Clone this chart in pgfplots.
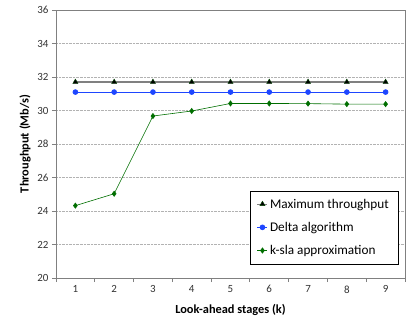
\documentclass[border=0pt]{standalone}
\usepackage{fontspec}
\setmainfont{Carlito}
\usepackage{pgfplots}
\pgfplotsset{compat=1.18}
\definecolor{ksla}{RGB}{0,110,0}
\definecolor{delta}{RGB}{30,70,255}
\definecolor{axgray}{RGB}{128,128,128}
\begin{document}
\begin{tikzpicture}
\begin{axis}[
  scale only axis, width=349bp, height=268bp,
  xmin=0.5, xmax=9.5, ymin=20, ymax=36,
  xtick={1,...,9}, ytick={20,22,...,36},
  minor xtick={0.5,1.5,...,9.5},
  major x tick style={draw=none},
  minor x tick style={draw=axgray, thick},
  minor tick length=4bp,
  xtick pos=bottom, ytick pos=left,
  tick align=outside,
  major tick length=4bp,
  ytick style={draw=axgray, thick},
  axis line style={draw=axgray, thick},
  ymajorgrids, grid style={densely dotted, gray!60},
  tick label style={font=\fontsize{11}{13}\selectfont, text=black!80},
  /pgf/number format/assume math mode=true,
  xlabel={\bfseries Look-ahead stages (k)},
  ylabel={\bfseries Throughput (Mb/s)},
  label style={font=\fontsize{12.4}{14}\selectfont},
  xlabel style={at={(axis description cs:0.5,0)}, yshift=-32bp, anchor=center},
  ylabel style={at={(axis description cs:0,0.5)}, yshift=31bp, anchor=center},
  legend style={at={(rel axis cs:0.98,0.052)}, anchor=south east, draw=black, font=\fontsize{13.3}{15}\selectfont, row sep=8.5bp, inner xsep=7bp, inner ysep=6bp, legend cell align=left},
  legend image code/.code={\draw[#1] (8bp,0bp) -- (18bp,0bp); \path[#1,mark repeat=1] plot coordinates {(13bp,0bp)};},
]
\addplot[color=axgray, line width=1.2pt, mark=triangle*, mark size=3pt, mark options={fill=black, draw=ksla!60!black, line width=0.4pt}]
 coordinates {(1,31.7)(2,31.7)(3,31.7)(4,31.7)(5,31.7)(6,31.7)(7,31.7)(8,31.7)(9,31.7)};
\addlegendentry{Maximum throughput}
\addplot[color=delta, line width=0.8pt, mark=*, mark size=2.4pt]
 coordinates {(1,31.1)(2,31.1)(3,31.1)(4,31.1)(5,31.1)(6,31.1)(7,31.1)(8,31.1)(9,31.1)};
\addlegendentry{Delta algorithm}
\addplot[color=ksla, line width=0.6pt, mark=diamond*, mark size=2.6pt]
 coordinates {(1,24.32)(2,25.03)(3,29.67)(4,29.97)(5,30.42)(6,30.42)(7,30.41)(8,30.38)(9,30.38)};
\addlegendentry{k-sla approximation}
\end{axis}
\pgfresetboundingbox
\path[use as bounding box] (-56bp,-47bp) rectangle (364bp,278bp);
\end{tikzpicture}
\end{document}
